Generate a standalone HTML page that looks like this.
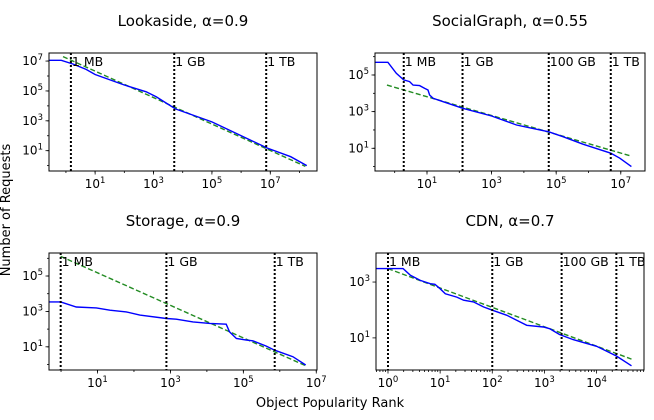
<!DOCTYPE html>
<html><head><meta charset="utf-8"><style>
html,body{margin:0;padding:0;background:#fff;}
svg{display:block;font-family:"DejaVu Sans","Liberation Sans",sans-serif;}
</style></head><body>
<svg id="fig" width="654" height="420" viewBox="0 0 654 420" xmlns="http://www.w3.org/2000/svg">
<text x="10" y="210" font-size="13" text-anchor="middle" transform="rotate(-90 10 210)">Number of Requests</text>
<text x="330" y="407" font-size="13" text-anchor="middle">Object Popularity Rank</text>
</svg>
<script>
// Data (log10 rank, log10 requests)
const lookasideRank = [-0.58,-0.16,0.25,0.69,1.0,2.0,2.75,3.1,3.75,5.0,6.9,7.7,8.25];
const lookasideReq  = [7.05,7.05,6.8,6.44,6.1,5.4,4.94,4.6,3.8,2.93,1.17,0.6,0.0];
const lookasideFitRank = [-0.1,8.2];
const lookasideFitReq  = [7.3,-0.05];
const lookasideMarks = [0.17,3.71,6.86];
const lookasideMarkLabels = ["1 MB","1 GB","1 TB"];

const socialRank = [-0.6,-0.21,0.05,0.28,0.46,0.57,0.77,0.93,1.03,1.08,1.19,1.5,2.11,3.0,3.77,4.77,5.21,5.83,6.69,6.97,7.33];
const socialReq  = [5.69,5.69,5.09,4.73,4.64,4.45,4.42,4.27,4.18,3.91,3.73,3.54,3.18,2.76,2.27,1.9,1.63,1.22,0.73,0.46,0.0];
const socialFitRank = [-0.24,7.27];
const socialFitReq  = [4.45,0.6];
const socialMarks = [0.28,2.1,4.77,6.69];
const socialMarkLabels = ["1 MB","1 GB","100 GB","1 TB"];

const storageRank = [-0.33,-0.01,0.42,0.97,1.34,1.79,2.16,2.89,3.16,3.62,4.08,4.53,4.62,4.81,5.08,5.26,5.63,5.86,6.36,6.71];
const storageReq  = [3.54,3.54,3.25,3.2,3.07,2.97,2.79,2.6,2.56,2.41,2.32,2.28,1.85,1.47,1.38,1.34,1.04,0.81,0.44,-0.03];
const storageFitRank = [-0.01,6.71];
const storageFitReq  = [6.11,-0.07];
const storageMarks = [-0.01,2.89,5.86];
const storageMarkLabels = ["1 MB","1 GB","1 TB"];

const cdnRank = [-0.23,0.29,0.43,0.62,0.81,0.9,1.0,1.1,1.32,1.45,1.64,1.83,2.0,2.28,2.66,2.98,3.1,3.29,3.55,4.0,4.38,4.67];
const cdnReq  = [3.48,3.48,3.24,3.06,2.94,2.92,2.76,2.58,2.46,2.35,2.29,2.11,1.99,1.81,1.45,1.39,1.33,1.12,0.94,0.7,0.35,0.0];
const cdnFitRank = [0,4.67];
const cdnFitReq  = [3.48,0.24];
const cdnMarks = [0,2.0,3.33,4.38];
const cdnMarkLabels = ["1 MB","1 GB","100 GB","1 TB"];

const panels = [
 {name:"lookaside",title:"Lookaside, α=0.9",box:[49,53,317,171],xr:[-0.58,8.6],yr:[-0.36,7.54],xt:[1,3,5,7],yt:[1,3,5,7],minor:false,
  r:lookasideRank,q:lookasideReq,fr:lookasideFitRank,fq:lookasideFitReq,m:lookasideMarks,ml:lookasideMarkLabels},
 {name:"socialgraph",title:"SocialGraph, α=0.55",box:[375,53,645,171],xr:[-0.61,7.75],yr:[-0.24,6.2],xt:[1,3,5,7],yt:[1,3,5],minor:false,
  r:socialRank,q:socialReq,fr:socialFitRank,fq:socialFitReq,m:socialMarks,ml:socialMarkLabels},
 {name:"storage",title:"Storage, α=0.9",box:[49,253,317,370],xr:[-0.33,7.02],yr:[-0.31,6.3],xt:[1,3,5,7],yt:[1,3,5],minor:false,
  r:storageRank,q:storageReq,fr:storageFitRank,fq:storageFitReq,m:storageMarks,ml:storageMarkLabels},
 {name:"cdn",title:"CDN, α=0.7",box:[376,253,644,370],xr:[-0.23,4.91],yr:[-0.15,4.04],xt:[0,1,2,3,4],yt:[1,3],minor:true,
  r:cdnRank,q:cdnReq,fr:cdnFitRank,fq:cdnFitReq,m:cdnMarks,ml:cdnMarkLabels}
];
const NS="http://www.w3.org/2000/svg";
const svg=document.getElementById('fig');
function mk(tag,attrs,parent){const e=document.createElementNS(NS,tag);for(const k in attrs)e.setAttribute(k,attrs[k]);(parent||svg).appendChild(e);return e;}
panels.forEach(p=>{
  const [x0,y0,x1,y1]=p.box;
  const sx=v=>x0+(v-p.xr[0])/(p.xr[1]-p.xr[0])*(x1-x0);
  const sy=v=>y1-(v-p.yr[0])/(p.yr[1]-p.yr[0])*(y1-y0);
  const g=mk('g',{});
  
  
  const t=mk('text',{x:(x0+x1)/2,y:y0-27,'font-size':15,'text-anchor':'middle'},g);
  t.textContent=p.title;
  
  
  const cid='clip-'+p.name;
  const cp=mk('clipPath',{id:cid},g);
  mk('rect',{x:x0,y:y0,width:x1-x0,height:y1-y0},cp);
  // minor ticks
  if(p.minor){
    for(let d=Math.floor(p.xr[0]);d<=Math.ceil(p.xr[1]);d++)for(let k=2;k<10;k++){const v=d+Math.log10(k);if(v>p.xr[0]&&v<p.xr[1]){const X=sx(v);mk('line',{x1:X,x2:X,y1:y1,y2:y1+2,stroke:'#000','stroke-width':0.8},g);}}
  } else {
    for(let d=Math.ceil(p.xr[0]);d<=p.xr[1];d++){const X=sx(d);mk('line',{x1:X,x2:X,y1:y1,y2:y1+2,stroke:'#000','stroke-width':0.8},g);}
    for(let d=Math.ceil(p.yr[0]);d<=p.yr[1];d++){const Y=sy(d);mk('line',{x1:x0,x2:x0-2,y1:Y,y2:Y,stroke:'#000','stroke-width':0.8},g);}
  }
  p.xt.forEach(v=>{const X=sx(v);mk('line',{x1:X,x2:X,y1:y1,y2:y1+3.5,stroke:'#000','stroke-width':0.8},g);
    const tx=mk('text',{x:X,y:y1+17,'font-size':12,'text-anchor':'middle'},g);
    tx.innerHTML='10<tspan dy="-5" font-size="8.5">'+v+'</tspan>';
    
    });
  p.yt.forEach(v=>{const Y=sy(v);mk('line',{x1:x0,x2:x0-3.5,y1:Y,y2:Y,stroke:'#000','stroke-width':0.8},g);
    const tx=mk('text',{x:x0-6,y:Y+4,'font-size':12,'text-anchor':'end'},g);
    tx.innerHTML='10<tspan dy="-5" font-size="8.5">'+v+'</tspan>';
    
    });
  const cg=mk('g',{'clip-path':'url(#'+cid+')'},g);
  const fit=mk('line',{x1:sx(p.fr[0]),y1:sy(p.fq[0]),x2:sx(p.fr[1]),y2:sy(p.fq[1]),stroke:'#228b22','stroke-width':1.4,'stroke-dasharray':'5,2.5'},cg);
  
  
  const pts=p.r.map((v,i)=>sx(v).toFixed(1)+','+sy(p.q[i]).toFixed(1)).join(' ');
  const pl=mk('polyline',{points:pts,fill:'none',stroke:'#0000ff','stroke-width':1.4},cg);
  
  
  p.m.forEach((v,i)=>{const X=sx(v);
    const l=mk('line',{x1:X,x2:X,y1:y0,y2:y1,stroke:'#000','stroke-width':2,'stroke-dasharray':'2,2'},g);
    
    
    const tx=mk('text',{x:X+1,y:y0+13,'font-size':12.5},g);
    tx.textContent=p.ml[i];
    
    });
  mk('rect',{x:x0,y:y0,width:x1-x0,height:y1-y0,fill:'none',stroke:'#000','stroke-width':1},g);
});
</script>
</body></html>
